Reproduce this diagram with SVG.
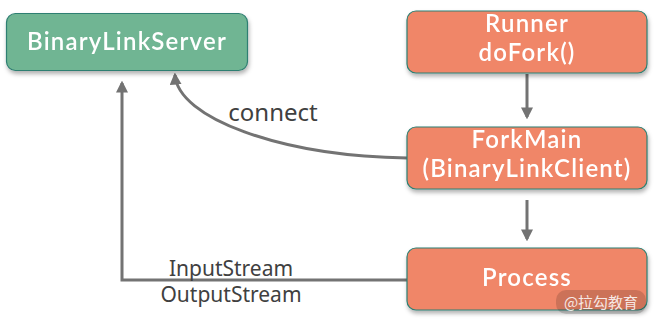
<svg xmlns="http://www.w3.org/2000/svg" width="658" height="323" viewBox="0 0 658 323">
<style>
.box{stroke:#2f7f72;stroke-width:1.2}
.g{fill:#6fb593}
.o{fill:#f08668}
.t{font-family:Lato,"Noto Sans",sans-serif;font-size:24px;font-weight:600;letter-spacing:1.2px;fill:#fff;text-anchor:middle}
.c{fill:none;stroke:#737373;stroke-width:3}
.l{font-family:"Noto Sans","Open Sans",sans-serif;fill:#404040;text-anchor:middle}
</style>
<defs>
<marker id="ah" viewBox="0 0 10 10" refX="8" refY="5" markerWidth="4" markerHeight="4" orient="auto-start-reverse"><path d="M0,0 L10,5 L0,10 z" fill="#737373"/></marker>
<filter id="sh" x="-10%" y="-20%" width="120%" height="150%"><feDropShadow dx="1" dy="3" stdDeviation="2" flood-color="#000" flood-opacity="0.3"/></filter>
</defs>
<g id="connectors">
<line class="c" x1="527" y1="74" x2="527" y2="117" marker-end="url(#ah)"/>
<line class="c" x1="527" y1="200" x2="527" y2="239" marker-end="url(#ah)"/>
<path class="c" d="M407,158 C280,156 178,118 175,75" marker-end="url(#ah)"/>
<path class="c" d="M407,280 L122,280 L122,83" marker-end="url(#ah)"/>
<text class="l" x="273" y="121" font-size="24">connect</text>
<text class="l" x="231" y="276" font-size="21">InputStream</text>
<text class="l" x="231" y="302" font-size="21">OutputStream</text>
</g>
<g id="server" filter="url(#sh)"><rect class="box g" x="6.5" y="13.5" width="241" height="57" rx="9"/><text class="t" x="127" y="50">BinaryLinkServer</text></g>
<g id="runner" filter="url(#sh)"><rect class="box o" x="407" y="11" width="240" height="62" rx="9"/><text class="t" x="527" y="32">Runner</text><text class="t" x="527" y="61">doFork()</text></g>
<g id="forkmain" filter="url(#sh)"><rect class="box o" x="407" y="127" width="240" height="62" rx="9"/><text class="t" x="527" y="148">ForkMain</text><text class="t" x="527" y="177">(BinaryLinkClient)</text></g>
<g id="process" filter="url(#sh)"><rect class="box o" x="407" y="248" width="240" height="62" rx="9"/><text class="t" x="527" y="286">Process</text></g>
<g id="watermark"><rect x="556" y="290" width="90" height="24" rx="10" fill="#000" fill-opacity="0.15"/><text x="601" y="308" font-family="'Noto Sans CJK SC',sans-serif" font-size="15" fill="#fff" fill-opacity="0.85" text-anchor="middle">@拉勾教育</text></g>
</svg>
